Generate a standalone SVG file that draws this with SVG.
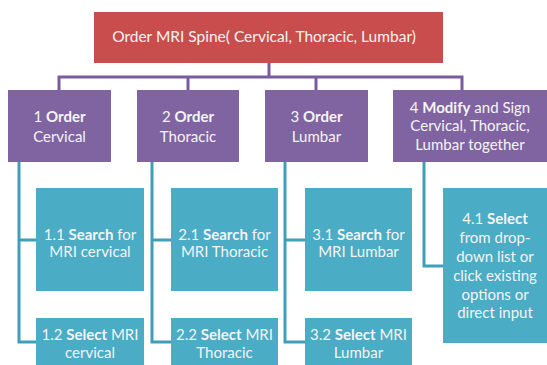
<svg xmlns="http://www.w3.org/2000/svg" width="547" height="365" viewBox="0 0 547 365">
<style>
.red{fill:#c94d4c}
.pur{fill:#8064a2}
.teal{fill:#4aacc5}
.t{font-family:Lato,"Liberation Sans",sans-serif;font-size:15px;fill:#f4f4f4;text-anchor:middle}
.b{font-weight:bold}
.cp{fill:none;stroke:#7a5c9e;stroke-width:3}
.ct{fill:none;stroke:#3f9fba;stroke-width:3}
</style>
<rect width="547" height="365" fill="#ffffff"/>
<g id="connectors">
<path class="cp" d="M269 63V77M59 90V77H462V90M188 77V90M316 77V90"/>
<path class="ct" d="M19 162V342H36M19 240H36"/>
<path class="ct" d="M152 162V342H171M152 240H171"/>
<path class="ct" d="M285 162V342H305M285 240H305"/>
<path class="ct" d="M424 162V266H443"/>
</g>
<g id="n0"><rect class="red" x="94" y="12" width="349" height="51"/>
<text class="t" x="264" y="42" style="font-size:15.5px">Order MRI Spine( Cervical, Thoracic, Lumbar)</text></g>
<g id="n1"><rect class="pur" x="8" y="90" width="103" height="72"/>
<text class="t" x="59.5" y="122">1 <tspan class="b">Order</tspan></text><text class="t" x="59.5" y="142">Cervical</text></g>
<g id="n2"><rect class="pur" x="137" y="90" width="102" height="72"/>
<text class="t" x="188" y="122">2 <tspan class="b">Order</tspan></text><text class="t" x="188" y="142">Thoracic</text></g>
<g id="n3"><rect class="pur" x="265" y="90" width="103" height="72"/>
<text class="t" x="316.5" y="122">3 <tspan class="b">Order</tspan></text><text class="t" x="316.5" y="142">Lumbar</text></g>
<g id="n4"><rect class="pur" x="393" y="90" width="160" height="72"/>
<text class="t" x="470" y="113">4 <tspan class="b">Modify</tspan> and Sign</text><text class="t" x="470" y="131">Cervical, Thoracic,</text><text class="t" x="470" y="150">Lumbar together</text></g>
<g id="n11"><rect class="teal" x="36" y="188" width="108" height="103"/>
<text class="t" x="90" y="240">1.1 <tspan class="b">Search</tspan> for</text><text class="t" x="90" y="257">MRI cervical</text></g>
<g id="n12"><rect class="teal" x="36" y="318" width="108" height="52"/>
<text class="t" x="90" y="340">1.2 <tspan class="b">Select</tspan> MRI</text><text class="t" x="90" y="358">cervical</text></g>
<g id="n21"><rect class="teal" x="171" y="188" width="107" height="103"/>
<text class="t" x="224.5" y="240">2.1 <tspan class="b">Search</tspan> for</text><text class="t" x="224.5" y="257">MRI Thoracic</text></g>
<g id="n22"><rect class="teal" x="171" y="318" width="107" height="52"/>
<text class="t" x="224.5" y="340">2.2 <tspan class="b">Select</tspan> MRI</text><text class="t" x="224.5" y="358">Thoracic</text></g>
<g id="n31"><rect class="teal" x="305" y="188" width="107" height="103"/>
<text class="t" x="358.5" y="240">3.1 <tspan class="b">Search</tspan> for</text><text class="t" x="358.5" y="257">MRI Lumbar</text></g>
<g id="n32"><rect class="teal" x="305" y="318" width="107" height="52"/>
<text class="t" x="358.5" y="340">3.2 <tspan class="b">Select</tspan> MRI</text><text class="t" x="358.5" y="358">Lumbar</text></g>
<g id="n41"><rect class="teal" x="443" y="188" width="110" height="155"/>
<text class="t" x="495" y="224">4.1 <tspan class="b">Select</tspan></text>
<text class="t" x="495" y="243">from drop-</text>
<text class="t" x="495" y="262">down list or</text>
<text class="t" x="495" y="281">click existing</text>
<text class="t" x="495" y="300">options or</text>
<text class="t" x="495" y="318">direct input</text></g>
</svg>
